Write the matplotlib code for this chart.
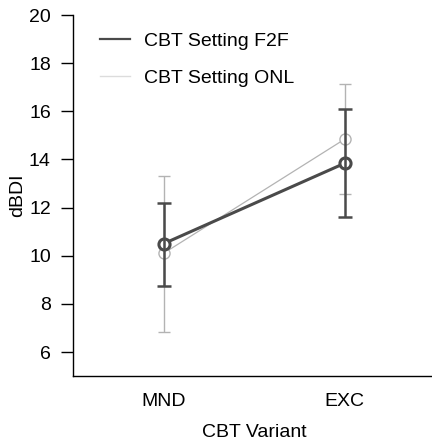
import matplotlib
matplotlib.use("Agg")
import matplotlib.pyplot as plt
from matplotlib.lines import Line2D

plt.rcParams['font.family'] = ['Liberation Sans', 'DejaVu Sans']

categories = ["MND", "EXC"]
series_names = ["CBT Setting F2F", "CBT Setting ONL"]
f2f_mean = [10.5, 13.84]
f2f_lo = [8.75, 11.6]
f2f_hi = [12.2, 16.08]
onl_mean = [10.1, 14.84]
onl_lo = [6.84, 12.55]
onl_hi = [13.3, 17.12]
yticks = [6, 8, 10, 12, 14, 16, 18, 20]

fig = plt.figure(figsize=(4.32, 4.43), dpi=100)
ax = fig.add_axes([0.169, 0.151, 0.838, 0.815])
x = list(range(len(categories)))

styles = [
    dict(mean=onl_mean, lo=onl_lo, hi=onl_hi, color="#b3b3b3", lw=0.9, elw=1.0, cap=4, mew=1.0, z=2),
    dict(mean=f2f_mean, lo=f2f_lo, hi=f2f_hi, color="#4a4a4a", lw=2.2, elw=1.8, cap=5, mew=2.2, z=3),
]
for s in styles:
    ax.plot(x, s["mean"], color=s["color"], lw=s["lw"], zorder=s["z"], solid_capstyle="butt")
    ax.plot(x, s["mean"], 'o', ms=8, mfc="white", mec=s["color"], mew=s["mew"], zorder=s["z"] + 2, lw=0)
    yerr = [[m - l for m, l in zip(s["mean"], s["lo"])], [h - m for m, h in zip(s["mean"], s["hi"])]]
    ax.errorbar(x, s["mean"], yerr=yerr, fmt='none', ecolor=s["color"], elinewidth=s["elw"],
                capsize=s["cap"], capthick=s["elw"], zorder=s["z"] + 4)

ax.set_xlim(-0.5, 1.5)
ax.set_ylim(5, 20)
ax.set_yticks(yticks)
ax.set_xticks(x)
ax.set_xticklabels(categories)
ax.tick_params(axis='x', length=0, pad=12, labelsize=14)
ax.tick_params(axis='y', length=9, width=1, labelsize=14, pad=7)
for sp in ["top", "right"]:
    ax.spines[sp].set_visible(False)
ax.spines["left"].set_bounds(5, 20)
ax.spines["left"].set_linewidth(1)
ax.spines["bottom"].set_linewidth(1)
ax.set_xlabel("CBT Variant", fontsize=14, labelpad=10)
ax.set_ylabel("dBDI", fontsize=14, labelpad=2)

handles = [Line2D([0], [0], color="#4a4a4a", lw=1.6), Line2D([0], [0], color="#dcdcdc", lw=1.0)]
ax.legend(handles, series_names, loc="upper left", bbox_to_anchor=(0.025, 1.0), frameon=False,
          fontsize=14, handlelength=1.55, handletextpad=0.72, labelspacing=1.0)

fig.savefig("out.png", dpi=100)
